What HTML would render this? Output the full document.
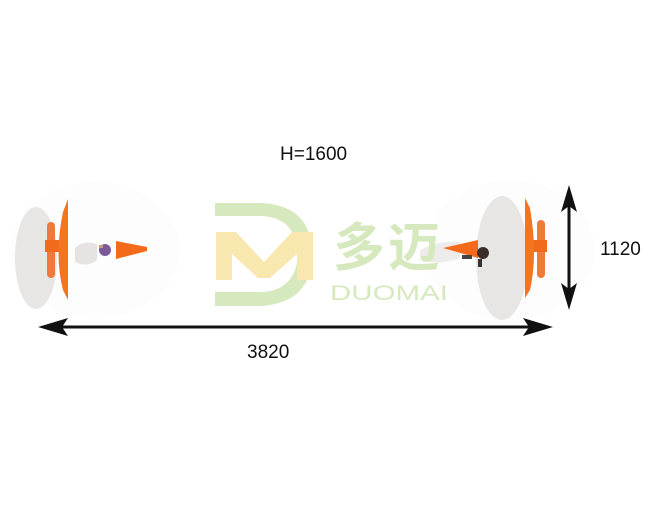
<!DOCTYPE html>
<html><head><meta charset="utf-8"><style>
html,body{margin:0;padding:0;background:#fff;width:663px;height:510px;overflow:hidden}
svg{display:block}
text{font-family:"Liberation Sans","Noto Sans CJK SC",sans-serif}
</style></head><body>
<svg width="663" height="510" viewBox="0 0 663 510" xmlns="http://www.w3.org/2000/svg">
<rect width="663" height="510" fill="#fff"/>
<!-- faint base areas -->
<ellipse cx="95" cy="250" rx="85" ry="68" fill="#fdfdfd"/>
<ellipse cx="510" cy="250" rx="85" ry="70" fill="#fdfdfd"/>
<!-- LEFT unit -->
<ellipse cx="36" cy="258" rx="21" ry="51" fill="#e8e6e4"/>
<path d="M75 248 q8 -8 22 -4 l0 16 q-10 8 -22 2 z" fill="#e6e4e2"/>
<rect x="47" y="222" width="8" height="56" rx="4" fill="#ef7a3a"/>
<rect x="45" y="240" width="14" height="12" fill="#f26b1d"/>
<path d="M68 199 L68 300 L63 290 Q54 255 63 212 Z" fill="#f47420"/>
<path d="M116 241 L147 247 L147 251 L116 259 Z" fill="#f26a1a"/>
<circle cx="105" cy="250" r="6" fill="#7c5a9a"/>
<rect x="99" y="245" width="4" height="3" fill="#c89a80"/>
<!-- RIGHT unit -->
<ellipse cx="502" cy="258" rx="26" ry="62" fill="#e8e6e4"/>
<path d="M420 250 q20 -10 40 -8 l0 16 q-20 8 -40 2 z" fill="#eeeceb"/>
<rect x="537" y="220" width="8" height="58" rx="4" fill="#ef7a3a"/>
<rect x="533" y="240" width="14" height="12" fill="#f26b1d"/>
<path d="M525 198 L525 298 L530 290 Q538 255 530 208 Z" fill="#f47420"/>
<path d="M443 248 L478 240 L478 258 Z" fill="#f26a1a"/>
<circle cx="483" cy="253" r="6" fill="#3a2e28"/>
<rect x="478" y="259" width="4" height="8" fill="#333"/>
<rect x="462" y="255" width="10" height="4" fill="#444"/>
<!-- logo -->
<path d="M215 203 L262 203 Q312 206 312 254 Q312 302 262 306 L215 306 L215 292 L262 292 Q296 290 298 254 Q296 218 262 216 L215 216 Z" fill="#d6e9be"/>
<path d="M216 232 L236 232 L264 262 L292 232 L313 232 L313 280 L297 280 L297 254 L270 278 L258 278 L232 254 L232 280 L216 280 Z" fill="#f9e7b0"/>
<text x="333" y="266" font-size="52" fill="#d6e9be" font-weight="bold" textLength="107">多迈</text>
<text x="330" y="300" font-size="21" fill="#d6e9be" textLength="118" lengthAdjust="spacingAndGlyphs">DUOMAI</text>
<!-- horizontal arrow -->
<line x1="60" y1="327" x2="530" y2="327" stroke="#111" stroke-width="3"/>
<path d="M38 327 L68 318 L62 327 L68 336 Z" fill="#111"/>
<path d="M553 327 L523 318 L529 327 L523 336 Z" fill="#111"/>
<!-- vertical arrow -->
<line x1="569" y1="200" x2="569" y2="295" stroke="#111" stroke-width="3"/>
<path d="M569 185 L561 212 L569 206 L577 212 Z" fill="#111"/>
<path d="M569 310 L561 283 L569 289 L577 283 Z" fill="#111"/>
<!-- labels -->
<text x="280" y="160" font-size="19" fill="#111">H=1600</text>
<text x="247" y="358" font-size="19" fill="#111">3820</text>
<text x="600" y="255" font-size="19" fill="#111">1120</text>
</svg>
</body></html>
